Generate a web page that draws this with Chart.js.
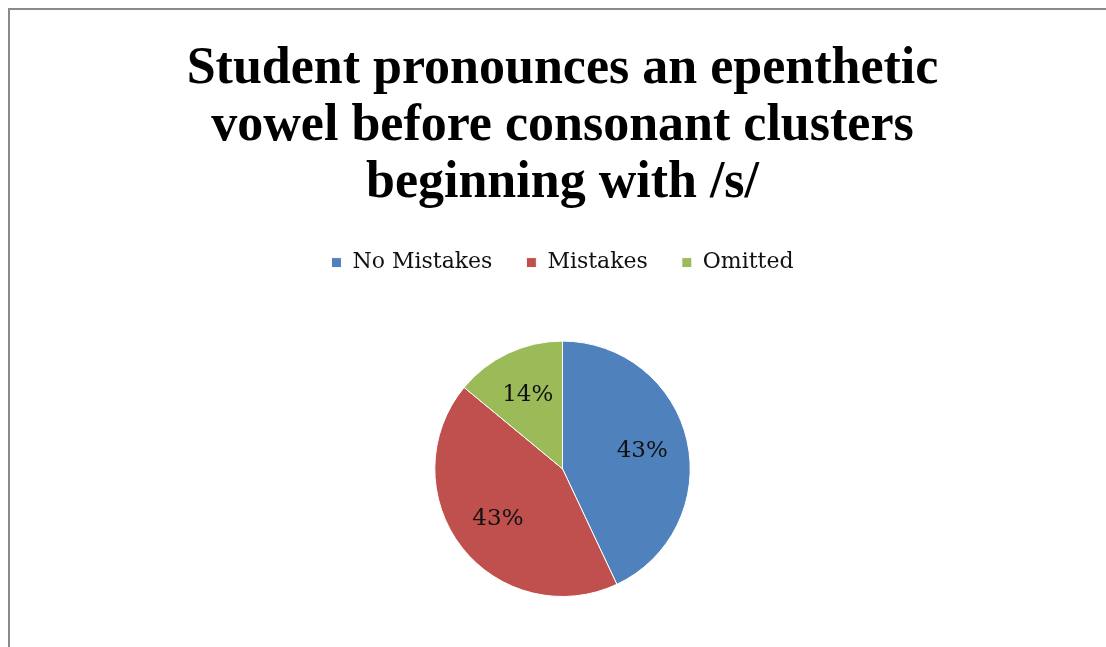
<!DOCTYPE html>
<html>
<head>
<meta charset="utf-8">
<script src="https://cdn.jsdelivr.net/npm/chart.js@4.4.1/dist/chart.umd.min.js"></script>
<style>
  html, body { margin: 0; padding: 0; background: #fff; }
  #wrap { position: relative; width: 1106px; height: 647px; }
  #frame { position: absolute; left: 8px; top: 8px; right: 0; bottom: 0;
           border-left: 2px solid #8a8a8a; border-top: 2px solid #8a8a8a; }
  canvas { position: absolute; left: 0; top: 0; }
</style>
</head>
<body>
<div id="wrap">
  <div id="frame"></div>
  <canvas id="chart"></canvas>
</div>
<script>
const categories = ["No Mistakes", "Mistakes", "Omitted"];
const percents = [43, 43, 14];
const colors = ["#4F81BD", "#C0504D", "#9BBB59"];
const titleLines = ["Student pronounces an epenthetic", "vowel before consonant clusters", "beginning with /s/"];

// writes the percentage inside each slice
const sliceLabels = {
  id: "sliceLabels",
  afterDatasetsDraw(chart) {
    const ctx = chart.ctx;
    const meta = chart.getDatasetMeta(0);
    ctx.save();
    ctx.font = "23px 'DejaVu Serif'";
    ctx.fillStyle = "#111";
    ctx.textAlign = "center";
    ctx.textBaseline = "middle";
    meta.data.forEach((arc, i) => {
      const p = arc.getProps(["x", "y", "startAngle", "endAngle", "outerRadius"], true);
      const mid = (p.startAngle + p.endAngle) / 2;
      const r = p.outerRadius * 0.64;
      ctx.fillText(percents[i] + "%", p.x + Math.cos(mid) * r, p.y + Math.sin(mid) * r);
    });
    ctx.restore();
  }
};

// extra room between the legend row and the pie
const legendGap = {
  id: "legendGap",
  beforeInit(chart) {
    const fit = chart.legend.fit;
    chart.legend.fit = function () {
      fit.call(this);
      this.height += 57;
    };
  }
};

new Chart(document.getElementById("chart"), {
  type: "pie",
  data: {
    labels: categories,
    datasets: [{
      data: percents,
      backgroundColor: colors,
      borderColor: "#fff",
      borderWidth: 1
    }]
  },
  plugins: [sliceLabels, legendGap],
  options: {
    responsive: true,
    maintainAspectRatio: false,
    animation: false,
    layout: { padding: { left: 19, top: 0, bottom: 50 } },
    plugins: {
      title: {
        display: true,
        text: titleLines,
        color: "#000",
        font: { family: "'Liberation Serif'", size: 52, weight: "bold", lineHeight: 1.1 },
        padding: { top: 41, bottom: 5 }
      },
      legend: {
        position: "top",
        labels: {
          color: "#111",
          font: { family: "'DejaVu Serif'", size: 22 },
          boxWidth: 10,
          boxHeight: 10,
          padding: 34
        }
      },
      tooltip: { enabled: false }
    }
  }
});
</script>
</body>
</html>
